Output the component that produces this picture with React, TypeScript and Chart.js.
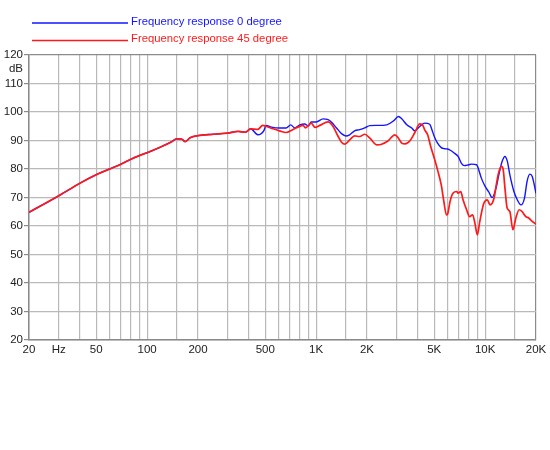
import React, { useEffect, useRef } from "react";
import { Chart, registerables } from "chart.js";

Chart.register(...registerables);

// Frequency response 0 degree (Hz, dB)
const freq0 = [
  20, 30, 40, 50, 60, 70, 80, 90, 100, 120, 140, 150, 160, 168, 180, 200, 246, 300, 346, 381,
  410, 452, 490, 506, 545, 607, 664, 707, 748, 802, 856, 900, 935, 1002, 1100, 1176, 1230, 1320,
  1413, 1500, 1579, 1690, 1810, 1940, 2080, 2280, 2620, 2870, 3070, 3210, 3440, 3680, 3830, 4100,
  4390, 4700, 4850, 5000, 5230, 5500, 5780, 6000, 6300, 6560, 6920, 7240, 7550, 8000, 8300, 8900,
  9100, 9500, 10000, 10500, 11000, 11600, 12000, 12600, 13100, 13550, 14000, 14800, 15500, 16300,
  17100, 17700, 18400, 19000, 20000,
];
const db0 = [
  64.8, 70.6, 75.0, 78.0, 80.0, 81.7, 83.4, 84.7, 85.7, 87.7, 89.6, 90.6, 90.5, 89.6, 91.0, 91.7, 92.2, 92.6, 93.2, 92.9,
  94.1, 92.0, 93.4, 95.3, 94.7, 94.4, 94.4, 95.5, 94.4, 95.5, 95.8, 95.1, 96.5, 96.5, 97.6, 97.3, 96.5, 94.4,
  92.4, 91.6, 92.0, 93.4, 93.8, 94.4, 95.2, 95.3, 95.5, 96.9, 98.4, 97.6, 95.5, 94.4, 93.4, 94.9,
  96.1, 95.7, 93.7, 91.4, 89.1, 87.5, 87.1, 87.0, 86.4, 85.6, 84.4, 82.0, 81.2, 81.5, 81.7, 81.5,
  80.3, 76.8, 73.9, 72.0, 70.0, 73.3, 77.4, 82.6, 84.4, 82.6, 78.0, 72.1, 69.2, 67.4,
  69.8, 75.6, 78.2, 77.4, 71.5,
];

// Frequency response 45 degree (Hz, dB)
const freq45 = [
  20, 30, 40, 50, 60, 70, 80, 90, 100, 120, 140, 150, 160, 168, 180, 200, 246, 300, 346, 381,
  410, 452, 483, 510, 556, 607, 664, 726, 780, 838, 864, 935, 985, 1052, 1176, 1260, 1350, 1413,
  1480, 1579, 1690, 1810, 1940, 2080, 2280, 2440, 2670, 2920, 3070, 3210, 3360, 3600, 3840, 4100,
  4290, 4390, 4570, 4760, 5000, 5230, 5500, 5700, 5900, 6000, 6200, 6450, 6800, 6920, 7170, 7400,
  7770, 8080, 8430, 8700, 9000, 9300, 9800, 10300, 10700, 11300, 11600, 12000, 12500, 12800, 13100,
  13500, 14000, 14600, 15200, 15900, 16500, 17400, 18100, 19000, 19600, 20000,
];
const db45 = [
  64.8, 70.6, 75.0, 78.0, 80.0, 81.7, 83.4, 84.7, 85.7, 87.7, 89.6, 90.6, 90.5, 89.6, 91.0, 91.7, 92.2, 92.6, 93.2, 92.9,
  94.1, 93.9, 95.3, 94.9, 94.1, 93.4, 92.8, 93.8, 94.7, 95.3, 94.4, 96.1, 94.6, 95.3, 96.5, 94.9, 91.4, 89.4,
  88.7, 90.2, 91.6, 91.4, 92.2, 90.8, 88.5, 88.7, 89.9, 92.0, 90.8, 89.1, 88.8, 90.0, 92.8, 95.8,
  95.2, 93.7, 92.0, 88.0, 83.8, 79.7, 74.4, 68.6, 63.9, 64.2, 68.6, 71.5, 72.1, 71.5, 72.1, 69.2,
  65.7, 63.3, 63.9, 61.0, 56.9, 61.6, 67.8, 69.2, 67.4, 69.8, 73.9, 78.5, 80.9, 79.7, 73.3,
  66.3, 65.1, 58.7, 62.8, 65.7, 65.1, 63.3, 62.8, 61.6, 61.0, 60.6,
];

const seriesNames = ["Frequency response 0 degree", "Frequency response 45 degree"];
const seriesColors = ["#1414ff", "#ff1a1a"];

const xGridValues = [
  20, 30, 40, 50, 60, 70, 80, 90, 100, 150, 200, 300, 400, 500, 600, 700, 800, 900, 1000, 1500,
  2000, 3000, 4000, 5000, 6000, 7000, 8000, 9000, 10000, 15000, 20000,
];
const xLabelValues = [20, 30, 50, 100, 200, 500, 1000, 2000, 5000, 10000, 20000];
const xLabelTexts = ["20", "Hz", "50", "100", "200", "500", "1K", "2K", "5K", "10K", "20K"];

const yTickValues = [20, 30, 40, 50, 60, 70, 80, 90, 100, 110, 115, 120];
const yUnitValue = 115;
const yUnitText = "dB";

const FONT = "'Liberation Sans', Arial, sans-serif";

const legendPlugin = {
  id: "topLegend",
  afterDraw(chart: any) {
    const ctx = chart.ctx;
    ctx.save();
    const rows = [
      { lineY: 23, textY: 22 },
      { lineY: 40.5, textY: 39 },
    ];
    rows.forEach((r, i) => {
      ctx.strokeStyle = seriesColors[i];
      ctx.lineWidth = 1.6;
      ctx.beginPath();
      ctx.moveTo(32, r.lineY);
      ctx.lineTo(128, r.lineY);
      ctx.stroke();
      ctx.fillStyle = seriesColors[i];
      ctx.font = `11.3px ${FONT}`;
      ctx.textBaseline = "middle";
      ctx.textAlign = "left";
      ctx.fillText(seriesNames[i], 131, r.textY);
    });
    ctx.restore();
  },
};

export default function App() {
  const ref = useRef<HTMLCanvasElement | null>(null);

  useEffect(() => {
    document.body.style.margin = "0";
    const canvas = ref.current;
    if (!canvas) return;
    const chart = new Chart(canvas, {
      type: "line",
      data: {
        datasets: [
          {
            label: seriesNames[0],
            data: freq0.map((f, i) => ({ x: f, y: db0[i] })),
            borderColor: seriesColors[0],
            borderWidth: 1.4,
            pointRadius: 0,
            cubicInterpolationMode: "monotone",
            fill: false,
            order: 2,
          },
          {
            label: seriesNames[1],
            data: freq45.map((f, i) => ({ x: f, y: db45[i] })),
            borderColor: seriesColors[1],
            borderWidth: 1.7,
            pointRadius: 0,
            cubicInterpolationMode: "monotone",
            fill: false,
            order: 1,
          },
        ],
      },
      options: {
        responsive: false,
        animation: false,
        events: [],
        layout: { padding: { top: 55, right: 14, bottom: 0, left: 0 } },
        plugins: {
          legend: { display: false },
          tooltip: { enabled: false },
        },
        scales: {
          x: {
            type: "logarithmic",
            min: 20,
            max: 20000,
            afterBuildTicks: (scale: any) => {
              scale.ticks = xGridValues.map((v) => ({ value: v }));
            },
            afterFit: (scale: any) => {
              scale.height = 110;
            },
            ticks: {
              autoSkip: false,
              maxRotation: 0,
              minRotation: 0,
              padding: 3,
              color: "#222",
              font: { family: FONT, size: 11.5 },
              callback: (value: any) => {
                const idx = xLabelValues.indexOf(Number(value));
                return idx >= 0 ? xLabelTexts[idx] : "";
              },
            },
            grid: {
              drawTicks: false,
              lineWidth: 1.2,
              color: (c: any) => (c.tick && c.tick.value === 20000 ? "#8a8a8a" : "#b9b9b9"),
            },
            border: { color: "#8a8a8a", width: 1.5 },
          },
          y: {
            type: "linear",
            min: 20,
            max: 120,
            afterBuildTicks: (scale: any) => {
              scale.ticks = yTickValues.map((v) => ({ value: v }));
            },
            afterFit: (scale: any) => {
              scale.width = 29;
            },
            ticks: {
              autoSkip: false,
              padding: 1,
              color: "#222",
              font: { family: FONT, size: 11.5 },
              callback: (value: any) => (Number(value) === yUnitValue ? yUnitText : String(value)),
            },
            grid: {
              tickLength: 5,
              lineWidth: 1.2,
              color: (c: any) =>
                c.tick && c.tick.value === yUnitValue
                  ? "rgba(0,0,0,0)"
                  : c.tick && c.tick.value === 120
                  ? "#8a8a8a"
                  : "#b9b9b9",
              tickColor: (c: any) =>
                c.tick && c.tick.value === yUnitValue ? "rgba(0,0,0,0)" : "#8a8a8a",
            },
            border: { color: "#8a8a8a", width: 1.5 },
          },
        },
      } as any,
      plugins: [legendPlugin],
    });
    return () => chart.destroy();
  }, []);

  return (
    <div style={{ width: 550, height: 450, background: "#fff" }}>
      <canvas ref={ref} width={550} height={450} />
    </div>
  );
}
